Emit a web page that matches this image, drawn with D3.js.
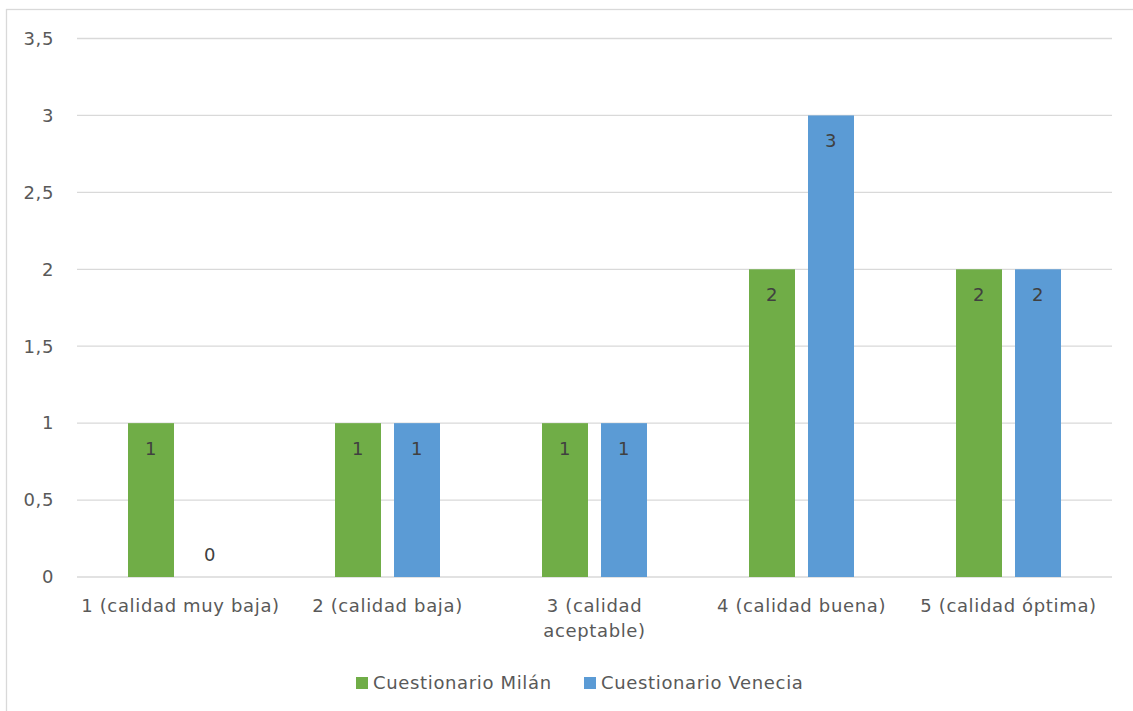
<!DOCTYPE html>
<html><head><meta charset="utf-8">
<script src="https://cdn.jsdelivr.net/npm/d3@7"></script>
<style>body{margin:0;background:#fff}svg{display:block}text{font-family:"DejaVu Sans",sans-serif;fill:#595959;letter-spacing:0.65px}</style>
</head><body>
<script>
const categories = ["1 (calidad muy baja)", "2 (calidad baja)", "3 (calidad\naceptable)", "4 (calidad buena)", "5 (calidad óptima)"];
const seriesNames = ["Cuestionario Milán", "Cuestionario Venecia"];
const milan = [1, 1, 1, 2, 2];
const venecia = [0, 1, 1, 3, 2];
const yTicks = [0, 0.5, 1, 1.5, 2, 2.5, 3, 3.5];
const colors = ["#70ad47", "#5b9bd5"];

const W = 1133, H = 711, FS = 18;
const svg = d3.select("body").append("svg").attr("width", W).attr("height", H);
svg.append("rect").attr("x", 6.5).attr("y", 9.5).attr("width", W + 10).attr("height", H + 10)
  .attr("fill", "#fff").attr("stroke", "#d9d9d9").attr("stroke-width", 1.3);

const y = d3.scaleLinear().domain([0, 3.5]).range([577, 38.5]);
const x0 = d3.scaleBand().domain(categories).range([77, 1112]);
const bw = x0.bandwidth();
const x1 = d3.scaleBand().domain(seriesNames).range([bw / 2 - 52.5, bw / 2 + 52.5]).paddingInner(0.2203).paddingOuter(0);

// gridlines
svg.append("g").selectAll("line").data(yTicks).join("line")
  .attr("x1", 77).attr("x2", 1112).attr("y1", d => y(d)).attr("y2", d => y(d))
  .attr("stroke", "#d9d9d9").attr("stroke-width", 1.3);

// y labels
svg.append("g").selectAll("text").data(yTicks).join("text")
  .attr("x", 54).attr("y", d => y(d)).attr("dy", "0.35em").attr("text-anchor", "end")
  .attr("font-size", FS).text(d => String(d).replace(".", ","));

const data = categories.map((c, i) => ({ c, vals: [milan[i], venecia[i]] }));
const g = svg.append("g").selectAll("g").data(data).join("g")
  .attr("transform", d => `translate(${x0(d.c)},0)`);
const bars = g.selectAll("g").data(d => d.vals.map((v, j) => ({ s: seriesNames[j], v, j }))).join("g");
bars.append("rect")
  .attr("x", d => x1(d.s)).attr("width", x1.bandwidth())
  .attr("y", d => y(d.v)).attr("height", d => y(0) - y(d.v))
  .attr("fill", d => colors[d.j]);
bars.append("text")
  .attr("x", d => x1(d.s) + x1.bandwidth() / 2)
  .attr("y", d => d.v > 0 ? y(d.v) + 32 : y(0) - 16)
  .attr("text-anchor", "middle").attr("font-size", FS).style("fill", "#404040")
  .text(d => d.v);

// x labels
const xl = svg.append("g").selectAll("text").data(categories).join("text")
  .attr("x", d => x0(d) + bw / 2).attr("y", 612).attr("text-anchor", "middle").attr("font-size", FS);
xl.each(function (d) {
  const lines = d.split("\n");
  d3.select(this).selectAll("tspan").data(lines).join("tspan")
    .attr("x", x0(d) + bw / 2).attr("dy", (l, i) => i === 0 ? 0 : 25).text(l => l);
});

// legend
const legX = [356, 584];
const lg = svg.append("g").selectAll("g").data(seriesNames).join("g")
  .attr("transform", (d, i) => `translate(${legX[i]},677)`);
lg.append("rect").attr("width", 12).attr("height", 12).attr("fill", (d, i) => colors[i]);
lg.append("text").attr("x", 17).attr("y", 6).attr("dy", "0.35em").attr("font-size", FS).text(d => d);
</script>
</body></html>
